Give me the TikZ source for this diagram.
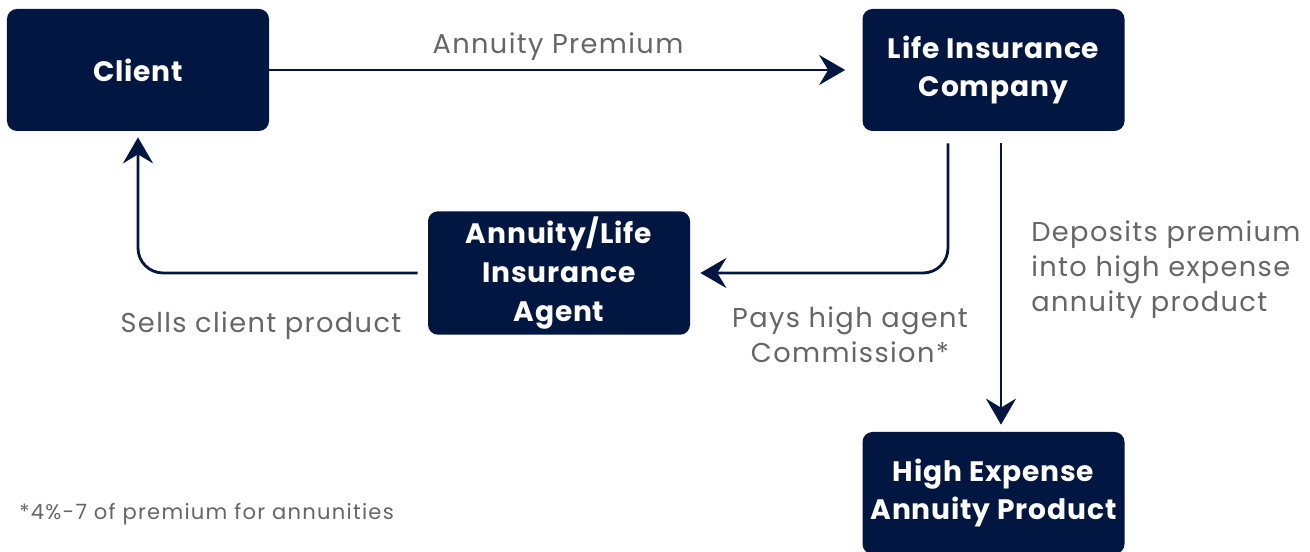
\documentclass[tikz,border=0pt]{standalone}
\usepackage{fontspec}
\setmainfont{Poppins}
\usetikzlibrary{arrows.meta}
\definecolor{navy}{HTML}{021642}
\definecolor{txt}{HTML}{666666}
\begin{document}
\begin{tikzpicture}[box/.style={rectangle,rounded corners=0.2cm,fill=navy,text=white,font=\bfseries\fontsize{16}{22}\selectfont\addfontfeature{LetterSpace=3},align=center,minimum width=5.24cm,minimum height=2.44cm},
lbl/.style={text=txt,font=\fontsize{15.5}{20}\selectfont\addfontfeature{LetterSpace=5},inner sep=0pt},
flow/.style={draw=navy,line width=1.6pt,rounded corners=0.5cm,-{Stealth[length=0.52cm,width=0.6cm,inset=0.18cm]}}]
\useasboundingbox (0,0) rectangle (26.2,-11.04);
\node[box] (c) at (2.76,-1.40) {Client};
\node[box] (l) at (19.87,-1.40) {Life Insurance\\Company};
\node[box] (g) at (11.18,-5.46) {Annuity/Life\\Insurance\\Agent};
\node[box] (p) at (19.87,-9.86) {High Expense\\Annuity Product};
\node[lbl] (t1) at (11.16,-0.94) {Annuity Premium};
\node[lbl,align=left,anchor=west] (t2) at (20.62,-5.4) {Deposits premium\\into high expense\\annuity product};
\node[lbl,align=center] (t3) at (17.0,-6.70) {Pays high agent\\Commission*};
\node[lbl] (t4) at (5.22,-6.52) {Sells client product};
\node[lbl,anchor=west,font=\fontsize{12}{14}\selectfont\addfontfeature{LetterSpace=6}] (t5) at (0.38,-10.28) {*4\%-7 of premium for annunities};
\draw[flow,shorten >=0.34cm] (c.east) -- (l.west);
\draw[flow,shorten >=0.2cm] ([xshift=-0.91cm,yshift=-0.24cm]l.south) |- (g.east);
\draw[flow,shorten >=0.14cm] ([xshift=0.15cm,yshift=-0.24cm]l.south) -- ([xshift=0.15cm]p.north);
\draw[flow,shorten <=0.2cm,shorten >=0.12cm] (g.west) -| (c.south);
\end{tikzpicture}
\end{document}
